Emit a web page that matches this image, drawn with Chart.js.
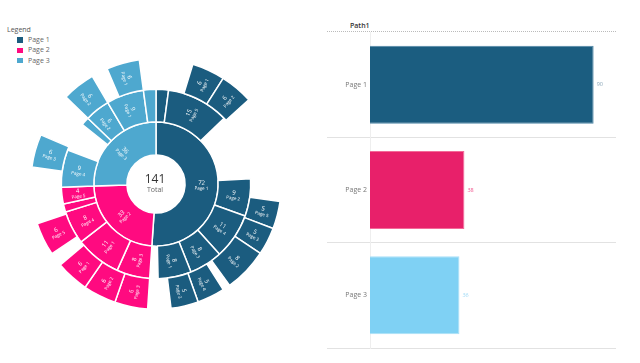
<!DOCTYPE html>
<html><head><meta charset="utf-8">
<script src="https://cdn.jsdelivr.net/npm/chart.js@4"></script>
<style>
html,body{margin:0;padding:0;background:#fff;width:640px;height:363px;overflow:hidden;font-family:'Open Sans',sans-serif;}
#sunWrap{position:absolute;left:29.5px;top:58px;width:252px;height:252px;}
#barWrap{position:absolute;left:327px;top:31px;width:290px;height:318px;}
#center{position:absolute;left:124px;top:172px;width:62px;text-align:center;pointer-events:none;}
#center .num{font-size:12px;color:#333;line-height:13px;}
#center .lab{font-size:7px;color:#666;line-height:9px;}
#legend{position:absolute;left:7px;top:24px;font-size:7px;color:#666;}
#legend .lt{height:11px;line-height:11px;color:#555;}
#legend .li{position:relative;height:10.3px;line-height:10.3px;padding-left:21px;}
#legend .li span{position:absolute;left:10px;top:2.3px;width:5.5px;height:5.5px;}
#hdr{position:absolute;left:327px;top:20px;width:289px;height:11px;border-bottom:1px dotted #bbb;}
#hdr span{position:absolute;left:23px;top:1px;font-size:7px;font-weight:600;color:#333;}
</style></head>
<body>
<div id="legend"></div>
<div id="sunWrap"><canvas id="sun"></canvas></div>
<div id="center"><div class="num" id="totNum"></div><div class="lab">Total</div></div>
<div id="hdr"><span>Path1</span></div>
<div id="barWrap"><canvas id="bar"></canvas></div>
<script>
// ---- data ----
const categories = ['Page 1', 'Page 2', 'Page 3'];
const barValues = [90, 38, 36];
const sunTotal = 141;
const ring1Values = [72, 33, 36];
const ring1Labels = ['Page 1', 'Page 2', 'Page 3'];
const ring1Parent = [0, 1, 2];
const ring2Values = [3, 15, 16, 9, 11, 8, 8, 2,   8, 11, 8, 2, 4,   9, 7, 2, 6, 9, 3];
const ring2Labels = ['', 'Page 5', null, 'Page 2', 'Page 4', 'Page 3', 'Page 1', null,
                     'Page 3', 'Page 1', 'Page 4', '', 'Page 5',
                     'Page 4', null, '', 'Page 2', 'Page 1', ''];
const ring2Parent = [0,0,0,0,0,0,0,0, 1,1,1,1,1, 2,2,2,2,2,2];
const ring3Values = [6.7, 6, 6, 19.7, 5, 5, 8, 1.4, 5, 5, 4.2,   6, 6, 6, 2.5, 6, 6.5,   3.8, 6, 8.2, 6, 3, 6, 3];
const ring3Labels = [null, 'Page 1', 'Page 2', null, 'Page 5', 'Page 3', 'Page 2', null, 'Page 4', 'Page 3', null,
                     'Page 3', 'Page 2', 'Page 1', null, 'Page 5', null,
                     null, 'Page 3', null, 'Page 2', null, 'Page 1', null];
const ring3Parent = [0,0,0,0,0,0,0,0,0,0,0, 1,1,1,1,1,1, 2,2,2,2,2,2,2];

// ---- styles ----
const sunColors = ['#1b5c7f', '#ff0a80', '#4ea8cf'];
const barColors = ['#1b5d80', '#e8206a', '#7fd1f4'];
const barBorders = ['#4f87a6', '#f36a98', '#a9e0f8'];
const valColors = ['#8aa6b8', '#f0508a', '#9fdaf6'];

// legend
const lg = document.getElementById('legend');
lg.innerHTML = '<div class="lt">Legend</div>' + categories.map((c, i) =>
  '<div class="li"><span style="background:' + sunColors[i] + '"></span>' + c + '</div>').join('');
document.getElementById('totNum').textContent = sunTotal;

function ds(values, labels, parents, weight) {
  return {
    data: values,
    segLabels: labels,
    weight: weight,
    backgroundColor: values.map((v, i) => labels[i] === null ? 'rgba(0,0,0,0)' : sunColors[parents[i]]),
    borderColor: values.map((v, i) => labels[i] === null ? 'rgba(0,0,0,0)' : '#ffffff'),
    borderWidth: values.map((v, i) => labels[i] === null ? 0 : 1.5),
    hoverOffset: 0
  };
}

const arcLabels = {
  id: 'arcLabels',
  afterDatasetsDraw(chart) {
    const ctx = chart.ctx;
    chart.data.datasets.forEach((d, di) => {
      const meta = chart.getDatasetMeta(di);
      meta.data.forEach((arc, i) => {
        const lab = d.segLabels[i];
        if (!lab) return;
        const a = (arc.startAngle + arc.endAngle) / 2;
        const r = (arc.innerRadius + arc.outerRadius) / 2;
        const x = arc.x + Math.cos(a) * r, y = arc.y + Math.sin(a) * r;
        ctx.save();
        ctx.translate(x, y);
        ctx.rotate(Math.cos(a) >= 0 ? a : a + Math.PI);
        ctx.fillStyle = '#ffffff';
        ctx.textAlign = 'center';
        ctx.textBaseline = 'middle';
        ctx.font = '6px "Open Sans", sans-serif';
        ctx.fillText(String(d.data[i]), 0, -2.6);
        ctx.font = '4.5px "Open Sans", sans-serif';
        ctx.fillText(lab, 0, 3);
        ctx.restore();
      });
    });
  }
};

new Chart(document.getElementById('sun'), {
  type: 'doughnut',
  data: {
    labels: ring3Values.map((v, i) => i),
    datasets: [
      ds(ring3Values, ring3Labels, ring3Parent, 30.5),
      ds(ring2Values, ring2Labels, ring2Parent, 32.5),
      ds(ring1Values, ring1Labels, ring1Parent, 33)
    ]
  },
  options: {
    responsive: true, maintainAspectRatio: false, animation: false,
    cutout: '23.2%',
    layout: { padding: 0 },
    plugins: { legend: { display: false }, tooltip: { enabled: false } }
  },
  plugins: [arcLabels]
});

const barValueLabels = {
  id: 'barValueLabels',
  afterDatasetsDraw(chart) {
    const ctx = chart.ctx;
    const meta = chart.getDatasetMeta(0);
    meta.data.forEach((el, i) => {
      ctx.save();
      ctx.fillStyle = valColors[i];
      ctx.font = '5.5px "Open Sans", sans-serif';
      ctx.textAlign = 'left';
      ctx.textBaseline = 'middle';
      ctx.fillText(String(barValues[i]), el.x + 3, el.y);
      ctx.restore();
    });
  }
};

new Chart(document.getElementById('bar'), {
  type: 'bar',
  data: {
    labels: categories,
    datasets: [{
      data: barValues,
      backgroundColor: barColors,
      borderColor: barBorders,
      borderWidth: 1,
      categoryPercentage: 1,
      barPercentage: 0.74
    }]
  },
  options: {
    indexAxis: 'y',
    responsive: true, maintainAspectRatio: false, animation: false,
    layout: { padding: { top: 1, bottom: 1, right: 1, left: 0 } },
    plugins: { legend: { display: false }, tooltip: { enabled: false } },
    scales: {
      x: { display: false, min: 0, max: 99 },
      y: {
        afterFit(s) { s.width = 43; },
        grid: {
          offset: true,
          color: c => c.index === 0 ? 'rgba(0,0,0,0)' : '#e2e2e2',
          tickColor: c => c.index === 0 ? 'rgba(0,0,0,0)' : '#e2e2e2',
          tickLength: 43,
          lineWidth: 1
        },
        border: { display: true, color: '#eeeeee' },
        ticks: { padding: -40, color: '#777', font: { size: 7, family: '"Open Sans", sans-serif' } }
      }
    }
  },
  plugins: [barValueLabels]
});
</script>
</body></html>
